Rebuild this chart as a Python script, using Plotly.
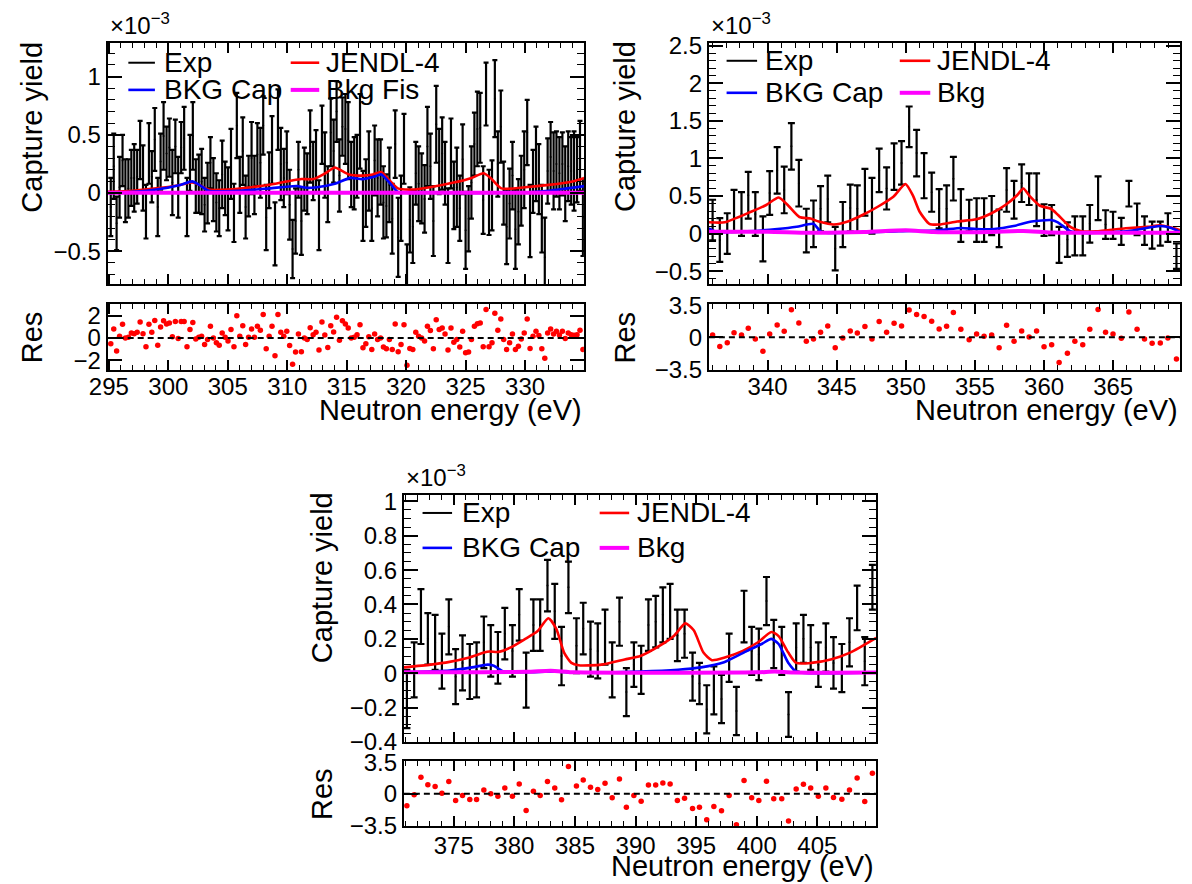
import plotly.graph_objects as go

# ---------------- data (capture yield in units of 1e-3) ----------------
# Panel 1: 295-335 eV
energy_1 = [295.16, 295.41, 295.65, 295.90, 296.15, 296.39, 296.64, 296.89, 297.13, 297.38,
            297.63, 297.87, 298.12, 298.37, 298.61, 298.86, 299.11, 299.35, 299.60, 299.85,
            300.09, 300.34, 300.59, 300.83, 301.08, 301.33, 301.57, 301.82, 302.06, 302.31,
            302.56, 302.80, 303.05, 303.30, 303.54, 303.79, 304.04, 304.28, 304.53, 304.78,
            305.02, 305.27, 305.52, 305.76, 306.01, 306.26, 306.50, 306.75, 307.00, 307.24,
            307.49, 307.74, 307.98, 308.23, 308.48, 308.72, 308.97, 309.22, 309.46, 309.71,
            309.96, 310.20, 310.45, 310.70, 310.94, 311.19, 311.44, 311.68, 311.93, 312.18,
            312.42, 312.67, 312.92, 313.16, 313.41, 313.66, 313.90, 314.15, 314.39, 314.64,
            314.89, 315.13, 315.38, 315.63, 315.87, 316.12, 316.37, 316.61, 316.86, 317.11,
            317.35, 317.60, 317.85, 318.09, 318.34, 318.59, 318.83, 319.08, 319.33, 319.57,
            319.82, 320.07, 320.31, 320.56, 320.81, 321.05, 321.30, 321.55, 321.79, 322.04,
            322.29, 322.53, 322.78, 323.03, 323.27, 323.52, 323.77, 324.01, 324.26, 324.51,
            324.75, 325.00, 325.25, 325.49, 325.74, 325.99, 326.23, 326.48, 326.72, 326.97,
            327.22, 327.46, 327.71, 327.96, 328.20, 328.45, 328.70, 328.94, 329.19, 329.44,
            329.68, 329.93, 330.18, 330.42, 330.67, 330.92, 331.16, 331.41, 331.66, 331.90,
            332.15, 332.40, 332.64, 332.89, 333.14, 333.38, 333.63, 333.88, 334.12, 334.37,
            334.62, 334.87]
exp_1 = [-0.12, 0.23, -0.26, 0.05, 0.28, 0.02, 0.04, 0.13, 0.13, 0.14,
         0.37, 0.13, -0.16, 0.34, 0.14, 0.46, -0.12, 0.27, 0.49, 0.34,
         0.39, 0.09, 0.40, 0.05, 0.39, 0.47, -0.12, 0.26, 0.49, 0.06,
         0.08, 0.10, -0.10, 0.00, 0.26, 0.03, -0.08, -0.13, 0.16, 0.04,
         -0.05, 0.25, -0.17, 0.58, 0.07, 0.36, -0.12, 0.06, 0.30, 0.07,
         0.33, 0.26, 0.58, -0.21, 0.11, 0.37, -0.35, 0.63, 0.25, 0.13,
         0.26, -0.10, -0.48, -0.24, 0.20, -0.24, 0.12, 0.08, 0.40, 0.19,
         0.27, -0.19, 0.50, 0.24, -0.01, 0.52, 0.36, 0.70, 0.15, 0.57,
         0.55, 0.45, 0.16, 0.17, 0.23, 0.53, -0.11, 0.00, 0.19, -0.13,
         0.28, 0.13, 0.18, -0.08, -0.11, 0.07, -0.22, 0.42, -0.38, -0.13,
         0.38, -0.77, -0.23, -0.29, 0.17, 0.08, 0.04, -0.05, 0.40, 0.23,
         -0.24, 0.59, 0.27, 0.34, 0.17, -0.28, 0.34, -0.02, 0.05, -0.13,
         0.29, -0.32, -0.22, 0.09, 0.42, 0.55, 0.56, -0.06, 0.85, -0.08,
         -0.02, 0.81, 0.25, 0.57, 0.00, -0.29, -0.09, 0.15, -0.31, -0.16,
         0.02, 0.20, 0.52, -0.24, 0.10, 0.25, 0.12, -0.22, -0.55, 0.19,
         0.31, 0.19, 0.25, 0.17, 0.25, 0.08, 0.23, 0.19, 0.19, 0.20,
         0.32, -0.21]
err_1 = [0.25, 0.28, 0.23, 0.26, 0.22, 0.27, 0.25, 0.24, 0.29, 0.23,
         0.25, 0.28, 0.23, 0.26, 0.22, 0.27, 0.25, 0.24, 0.29, 0.23,
         0.25, 0.28, 0.23, 0.26, 0.22, 0.27, 0.25, 0.24, 0.29, 0.23,
         0.25, 0.28, 0.23, 0.26, 0.22, 0.27, 0.25, 0.24, 0.29, 0.23,
         0.27, 0.30, 0.25, 0.28, 0.24, 0.29, 0.27, 0.26, 0.31, 0.25,
         0.27, 0.30, 0.25, 0.28, 0.24, 0.29, 0.27, 0.26, 0.31, 0.25,
         0.27, 0.30, 0.25, 0.28, 0.24, 0.29, 0.27, 0.26, 0.31, 0.25,
         0.27, 0.30, 0.25, 0.28, 0.24, 0.29, 0.27, 0.26, 0.31, 0.25,
         0.30, 0.33, 0.28, 0.31, 0.27, 0.32, 0.30, 0.29, 0.34, 0.28,
         0.30, 0.33, 0.28, 0.31, 0.27, 0.32, 0.30, 0.29, 0.34, 0.28,
         0.30, 0.33, 0.28, 0.31, 0.27, 0.32, 0.30, 0.29, 0.34, 0.28,
         0.30, 0.33, 0.28, 0.31, 0.27, 0.32, 0.30, 0.29, 0.34, 0.28,
         0.30, 0.33, 0.28, 0.31, 0.27, 0.32, 0.30, 0.29, 0.27, 0.28,
         0.30, 0.33, 0.28, 0.31, 0.27, 0.32, 0.30, 0.29, 0.34, 0.28,
         0.30, 0.33, 0.28, 0.31, 0.27, 0.32, 0.30, 0.29, 0.34, 0.28,
         0.30, 0.33, 0.28, 0.31, 0.27, 0.32, 0.30, 0.29, 0.34, 0.28,
         0.30, 0.33]
res_1 = [-0.53, 0.79, -1.18, 0.15, 1.21, 0.00, 0.06, 0.44, 0.38, 0.50,
         1.41, 0.38, -0.79, 1.21, 0.50, 1.56, -0.65, 0.97, 1.53, 1.24,
         1.32, 0.09, 1.47, -0.06, 1.47, 1.47, -0.79, 0.74, 1.38, -0.09,
         0.06, 0.15, -0.59, -0.15, 1.03, 0.00, -0.44, -0.65, 0.44, 0.06,
         -0.29, 0.74, -0.79, 1.97, 0.15, 1.09, -0.59, 0.06, 0.79, 0.06,
         1.03, 0.68, 2.09, -0.97, 0.15, 1.03, -1.59, 2.09, 0.50, 0.15,
         0.59, -0.68, -2.35, -1.26, 0.35, -1.24, 0.00, -0.15, 0.91, 0.29,
         0.50, -1.09, 1.41, 0.26, -0.85, 1.09, 0.53, 1.85, -0.21, 1.53,
         1.24, 0.88, 0.00, 0.06, 0.29, 1.18, -0.88, -0.53, 0.09, -1.03,
         0.35, -0.15, 0.00, -0.82, -0.97, -0.15, -1.03, 1.24, -1.24, -0.59,
         1.18, -2.44, -0.94, -1.03, 0.50, 0.15, 0.00, -0.29, 1.03, 0.65,
         -0.97, 1.62, 0.74, 0.88, 0.35, -1.09, 0.88, -0.38, -0.15, -0.82,
         0.59, -1.32, -1.26, -0.15, 1.03, 1.26, 1.32, -0.79, 2.53, -0.79,
         -0.44, 2.21, 0.68, 1.68, -0.15, -1.03, -0.44, 0.35, -1.03, -0.74,
         -0.09, 0.44, 1.68, -0.94, 0.15, 0.59, 0.21, -0.97, -1.82, 0.44,
         0.79, 0.35, 0.59, 0.26, 0.59, -0.06, 0.44, 0.29, 0.24, 0.29,
         0.68, -1.03]
jendl_1_E = [294.9, 297.0, 299.0, 301.0, 302.0, 302.6, 303.4, 305.0, 307.0, 309.0,
             310.5, 311.2, 312.2, 313.2, 314.0, 314.6, 315.2, 316.4, 317.2, 317.9,
             318.5, 319.3, 320.5, 322.0, 324.0, 325.5, 326.5, 327.1, 328.0, 330.0,
             332.0, 334.0, 335.0]
jendl_1 = [0.01, 0.02, 0.04, 0.07, 0.09, 0.07, 0.03, 0.03, 0.05, 0.08,
           0.11, 0.12, 0.12, 0.17, 0.22, 0.19, 0.16, 0.15, 0.16, 0.18,
           0.12, 0.04, 0.03, 0.05, 0.09, 0.13, 0.17, 0.13, 0.04, 0.05,
           0.07, 0.10, 0.13]
bkgcap_1_E = [294.9, 297.0, 299.0, 301.0, 302.0, 302.6, 303.4, 306.0, 308.5, 310.8,
              311.6, 312.5, 314.0, 315.3, 316.3, 317.3, 317.9, 318.6, 319.3, 322.0,
              330.0, 332.0, 335.0]
bkgcap_1 = [0.0, 0.01, 0.03, 0.07, 0.10, 0.07, 0.02, 0.02, 0.04, 0.06,
            0.045, 0.05, 0.08, 0.13, 0.12, 0.14, 0.16, 0.09, 0.01, 0.003,
            0.005, 0.02, 0.06]
bkg_1_E = [294.9, 305.0, 315.0, 325.0, 335.0]
bkg_1 = [0.002, 0.002, 0.003, 0.002, 0.002]

# Panel 2: 336-370 eV
energy_2 = [336.02, 336.54, 337.08, 337.57, 338.11, 338.60, 339.11, 339.66, 340.15, 340.69,
            341.20, 341.72, 342.26, 342.80, 343.32, 343.83, 344.35, 344.89, 345.44, 345.98,
            346.49, 347.04, 347.55, 348.07, 348.61, 349.15, 349.69, 350.24, 350.78, 351.32,
            351.87, 352.41, 352.95, 353.44, 353.98, 354.58, 355.12, 355.66, 356.21, 356.75,
            357.29, 357.83, 358.38, 358.92, 359.46, 360.00, 360.55, 361.09, 361.69, 362.23,
            362.80, 363.31, 363.91, 364.45, 364.99, 365.59, 366.14, 366.73, 367.27, 367.82,
            368.41, 368.96, 369.58]
exp_2 = [0.18, -0.085, 0.00, 0.30, 0.26, 0.51, 0.26, -0.07, 0.54, 0.84,
         0.58, 1.16, 0.67, 0.04, 0.13, 0.33, 0.46, -0.20, 0.12, 0.34,
         0.33, 0.55, 0.37, 0.84, 0.60, 0.89, 0.94, 1.42, 1.07, 0.77,
         0.55, 0.33, 0.33, 0.73, 0.24, 0.24, 0.18, 0.18, 0.24, 0.07,
         0.58, 0.45, 0.67, 0.59, 0.45, 0.18, 0.18, -0.15, -0.08, -0.03,
         -0.03, 0.13, 0.47, 0.12, 0.11, 0.03, 0.53, 0.19, 0.04, -0.02,
         0.00, 0.08, -0.30]
err_2 = [0.27, 0.29, 0.27, 0.28, 0.29, 0.31, 0.29, 0.30, 0.29, 0.31,
         0.31, 0.31, 0.31, 0.29, 0.31, 0.30, 0.31, 0.29, 0.30, 0.31,
         0.31, 0.31, 0.37, 0.29, 0.28, 0.31, 0.29, 0.27, 0.31, 0.30,
         0.26, 0.26, 0.31, 0.29, 0.35, 0.21, 0.29, 0.29, 0.26, 0.25,
         0.29, 0.25, 0.25, 0.21, 0.35, 0.21, 0.20, 0.24, 0.23, 0.26,
         0.26, 0.25, 0.29, 0.19, 0.18, 0.18, 0.17, 0.21, 0.19, 0.18,
         0.16, 0.19, 0.17]
res_2 = [0.26, -0.99, -0.58, 0.51, 0.26, 0.99, -0.18, -1.53, 0.36, 1.35,
         0.66, 3.00, 1.57, -0.44, -0.18, 0.55, 1.24, -1.13, -0.07, 0.69,
         0.47, 1.17, -0.18, 1.72, 0.55, 1.53, 1.24, 2.99, 2.48, 2.26,
         1.75, 0.91, 1.20, 2.70, 0.88, -0.26, 0.36, 0.11, 0.26, -1.13,
         1.31, -0.44, 0.69, 0.04, 0.69, -1.02, -0.80, -2.74, -1.75, -0.44,
         -0.80, 0.88, 3.03, 0.55, 0.36, -0.11, 2.77, 0.88, -0.18, -0.66,
         -0.62, -0.07, -2.37]
jendl_2_E = [335.75, 336.9, 338.8, 339.9, 340.8, 341.5, 342.3, 343.1, 343.7, 344.8,
             345.8, 346.9, 348.0, 349.1, 349.97, 350.5, 351.0, 351.7, 352.4, 353.7,
             355.1, 356.2, 357.2, 358.05, 358.5, 359.0, 359.7, 360.5, 361.0, 361.9,
             362.7, 363.75, 365.9, 367.5, 368.4, 369.0, 369.85]
jendl_2 = [0.15, 0.15, 0.29, 0.38, 0.48, 0.37, 0.22, 0.20, 0.16, 0.12,
           0.16, 0.25, 0.36, 0.49, 0.66, 0.51, 0.29, 0.13, 0.12, 0.16,
           0.19, 0.27, 0.38, 0.51, 0.60, 0.49, 0.37, 0.33, 0.25, 0.09,
           0.03, 0.03, 0.07, 0.09, 0.11, 0.09, 0.045]
bkgcap_2_E = [335.75, 336.35, 338.5, 340.7, 342.1, 343.3, 343.9, 345.5, 349.5, 352.4,
              354.0, 355.1, 356.4, 357.8, 359.1, 360.5, 361.0, 361.9, 362.7, 366.0,
              368.4, 369.2, 369.85]
bkgcap_2 = [0.07, 0.02, 0.03, 0.06, 0.09, 0.13, 0.02, 0.01, 0.03, 0.045,
            0.075, 0.06, 0.06, 0.10, 0.16, 0.18, 0.15, 0.03, 0.01, 0.03,
            0.10, 0.075, 0.02]
bkg_2_E = [335.75, 340.0, 343.0, 347.0, 350.0, 352.0, 356.0, 358.5, 360.5, 365.0, 369.85]
bkg_2 = [0.025, 0.025, 0.01, 0.02, 0.045, 0.02, 0.02, 0.035, 0.015, 0.01, 0.01]

# Panel 3: 371-410 eV
energy_3 = [371.13, 371.73, 372.29, 372.86, 373.46, 374.02, 374.59, 375.15, 375.72, 376.32,
            376.88, 377.48, 378.05, 378.64, 379.21, 379.84, 380.40, 380.97, 381.57, 382.13,
            382.73, 383.33, 383.89, 384.46, 385.12, 385.68, 386.28, 386.88, 387.48, 388.07,
            388.67, 389.24, 389.86, 390.46, 391.06, 391.66, 392.25, 392.85, 393.45, 394.04,
            394.70, 395.27, 395.87, 396.46, 397.09, 397.72, 398.32, 398.95, 399.58, 400.17,
            400.80, 401.40, 402.06, 402.62, 403.25, 403.85, 404.45, 405.08, 405.70, 406.33,
            407.02, 407.65, 408.28, 408.91, 409.54]
exp_3 = [-0.15, 0.02, 0.33, 0.20, 0.18, 0.07, 0.27, -0.02, 0.06, 0.01,
         0.02, 0.18, 0.13, 0.09, 0.23, 0.13, 0.34, -0.04, 0.28, 0.28,
         0.51, 0.36, 0.10, 0.50, 0.16, 0.26, 0.14, 0.13, 0.21, 0.02,
         0.30, -0.11, 0.05, 0.02, 0.28, 0.30, 0.34, 0.36, 0.22, 0.23,
         -0.02, -0.06, -0.21, -0.10, -0.15, 0.09, -0.22, 0.33, 0.13, 0.11,
         0.42, 0.17, 0.13, -0.24, 0.15, 0.20, 0.15, 0.05, 0.15, 0.06,
         0.03, 0.18, 0.38, 0.07, 0.50]
err_3 = [0.17, 0.16, 0.16, 0.15, 0.16, 0.16, 0.16, 0.16, 0.16, 0.16,
         0.16, 0.15, 0.15, 0.15, 0.15, 0.15, 0.15, 0.16, 0.15, 0.15,
         0.15, 0.16, 0.17, 0.15, 0.16, 0.15, 0.16, 0.16, 0.16, 0.16,
         0.14, 0.14, 0.13, 0.14, 0.15, 0.15, 0.16, 0.16, 0.15, 0.14,
         0.14, 0.12, 0.14, 0.14, 0.14, 0.14, 0.14, 0.15, 0.14, 0.15,
         0.14, 0.14, 0.14, 0.13, 0.14, 0.14, 0.13, 0.13, 0.14, 0.15,
         0.14, 0.14, 0.13, 0.14, 0.13]
res_3 = [-1.32, -0.11, 1.83, 1.00, 0.81, 0.07, 1.36, -0.73, -0.18, -0.62,
         -0.62, 0.44, 0.00, -0.26, 0.66, -0.26, 1.10, -1.83, 0.29, -0.18,
         1.36, 0.66, -0.66, 3.04, 0.88, 1.54, 0.73, 0.48, 1.17, -0.44,
         1.65, -1.47, -0.18, -0.81, 0.99, 0.99, 1.21, 1.10, -0.73, -0.48,
         -1.61, -1.47, -2.86, -1.39, -1.87, -0.18, -3.41, 1.47, -0.44, -0.73,
         1.39, -0.55, -0.55, -3.00, 0.55, 1.06, 0.66, -0.26, 0.66, -0.40,
         -0.59, 0.44, 1.76, -0.84, 2.27]
jendl_3_E = [370.88, 373.1, 374.65, 376.2, 377.5, 377.95, 378.7, 379.7, 380.9, 381.9,
             382.8, 383.45, 384.1, 384.7, 385.3, 387.2, 389.1, 390.4, 392.0, 393.2,
             394.1, 394.8, 395.6, 396.3, 397.3, 398.85, 400.1, 401.2, 401.8, 402.6,
             403.25, 404.5, 406.1, 407.7, 409.85]
jendl_3 = [0.034, 0.05, 0.066, 0.09, 0.12, 0.126, 0.124, 0.15, 0.20, 0.244,
           0.32, 0.26, 0.12, 0.06, 0.046, 0.05, 0.08, 0.10, 0.16, 0.22,
           0.29, 0.25, 0.12, 0.076, 0.09, 0.13, 0.18, 0.24, 0.216, 0.12,
           0.06, 0.06, 0.08, 0.12, 0.206]
bkgcap_3_E = [370.88, 374.65, 376.5, 377.8, 378.3, 379.1, 380.9, 383.4, 384.7, 390.4,
              393.5, 395.4, 397.3, 399.2, 400.4, 401.2, 401.8, 402.6, 403.25, 409.85]
bkgcap_3 = [0.006, 0.016, 0.034, 0.05, 0.044, 0.01, 0.006, 0.01, 0.004, 0.01,
            0.02, 0.034, 0.064, 0.13, 0.17, 0.20, 0.17, 0.06, 0.01, 0.006]
bkg_3_E = [370.88, 381.0, 383.0, 385.0, 400.0, 401.5, 403.0, 409.85]
bkg_3 = [0.005, 0.008, 0.015, 0.005, 0.005, 0.01, 0.004, 0.004]

legend_labels_1 = ["Exp", "JENDL-4", "BKG Cap", "Bkg Fis"]
legend_labels_23 = ["Exp", "JENDL-4", "BKG Cap", "Bkg"]
res_ticks_1 = [-2, 0, 2]
res_ticks_23 = [-3.5, 0, 3.5]

# ---------------- layout helpers ----------------
# The page body has an 8px default margin, so the figure is drawn 8px in from the
# window corner; positions below are given in window pixels.
OFF = 8
W, H = 1192 - OFF, 884 - OFF
FONT = "Liberation Sans, Arial, Helvetica, sans-serif"


def fx(p):
    return (p - OFF) / W


def fy(p):
    return 1 - (p - OFF) / H


panels = [
    dict(E=energy_1, exp=exp_1, err=err_1, res=res_1,
         red=(jendl_1_E, jendl_1), blue=(bkgcap_1_E, bkgcap_1), mag=(bkg_1_E, bkg_1),
         xr=[294.9, 334.95], yr=[-0.78, 1.285], ydt=0.5, yminor=0.1,
         rr=[-2.9, 3.0], rt=res_ticks_1,
         fx0=90, fx1=574, my=(31, 279), ry=(300, 368), cap=2.5,
         title_x=13, xt_y=409, standoff=-6,
         leg_rows=(51, 79), leg_lines=((111, 138), (276, 305)), leg_text=(145, 310),
         labels=legend_labels_1),
    dict(E=energy_2, exp=exp_2, err=err_2, res=res_2,
         red=(jendl_2_E, jendl_2), blue=(bkgcap_2_E, bkgcap_2), mag=(bkg_2_E, bkg_2),
         xr=[335.75, 369.85], yr=[-0.67, 2.53], ydt=0.5, yminor=0.1,
         rr=[-3.6, 3.6], rt=res_ticks_23,
         fx0=701, fx1=1180, my=(31, 279), ry=(300, 368), cap=3.5,
         title_x=616, xt_y=409, standoff=-6,
         leg_rows=(49, 82), leg_lines=((719, 750), (895, 926)), leg_text=(756, 931),
         labels=legend_labels_23),
    dict(E=energy_3, exp=exp_3, err=err_3, res=res_3,
         red=(jendl_3_E, jendl_3), blue=(bkgcap_3_E, bkgcap_3), mag=(bkg_3_E, bkg_3),
         xr=[370.88, 409.85], yr=[-0.40, 1.04], ydt=0.2, yminor=0.05,
         rr=[-3.6, 3.6], rt=res_ticks_23,
         fx0=391, fx1=871, my=(496, 751), ry=(771, 838), cap=3.5,
         title_x=308, xt_y=879, standoff=-3,
         leg_rows=(515, 551), leg_lines=((410, 440), (590, 620)), leg_text=(448, 626),
         labels=legend_labels_23),
]

fig = go.Figure()
layout_axes = {}
shapes = []
annotations = []

tickfont = dict(family=FONT, size=24, color="black")
title_font = dict(family=FONT, size=29, color="black")

for i, p in enumerate(panels):
    m = 2 * i + 1
    r = 2 * i + 2
    xm_ref = "x" if m == 1 else f"x{m}"
    ym_ref = "y" if m == 1 else f"y{m}"
    xr_ref = f"x{r}"
    yr_ref = f"y{r}"
    xdom = [fx(p["fx0"]), fx(p["fx1"])]

    common_x = dict(domain=xdom, range=p["xr"], showline=True, mirror="ticks",
                    linecolor="black", linewidth=2, ticks="inside", tickcolor="black",
                    tickwidth=1.5, dtick=5, tick0=0, showgrid=False, zeroline=False,
                    tickfont=tickfont)
    layout_axes["xaxis" if m == 1 else f"xaxis{m}"] = dict(
        common_x, anchor=ym_ref, ticklen=10, showticklabels=False,
        minor=dict(ticks="inside", ticklen=5, dtick=1, tickcolor="black", tickwidth=1.2, showgrid=False))
    layout_axes[f"xaxis{r}"] = dict(
        common_x, anchor=yr_ref, ticklen=10, showticklabels=True, ticklabelstandoff=p["standoff"],
        minor=dict(ticks="inside", ticklen=5, dtick=1, tickcolor="black", tickwidth=1.2, showgrid=False))

    layout_axes["yaxis" if m == 1 else f"yaxis{m}"] = dict(
        domain=[fy(p["my"][1]), fy(p["my"][0])], range=p["yr"], anchor=xm_ref,
        showline=True, mirror="ticks", linecolor="black", linewidth=2,
        ticks="inside", ticklen=14, tickcolor="black", tickwidth=1.5,
        dtick=p["ydt"], tick0=0, showgrid=False, zeroline=False, tickfont=tickfont,
        minor=dict(ticks="inside", ticklen=7, dtick=p["yminor"], tickcolor="black",
                   tickwidth=1.2, showgrid=False))
    layout_axes[f"yaxis{r}"] = dict(
        domain=[fy(p["ry"][1]), fy(p["ry"][0])], range=p["rr"], anchor=xr_ref,
        showline=True, mirror="ticks", linecolor="black", linewidth=2,
        ticks="inside", ticklen=14, tickcolor="black", tickwidth=1.5,
        tickvals=p["rt"], ticktext=[("\u2212" + str(abs(v)) if v < 0 else str(v)) for v in p["rt"]],
        showgrid=False, zeroline=False, tickfont=tickfont)

    # experimental data with error bars
    fig.add_trace(go.Scatter(
        x=p["E"], y=p["exp"], mode="markers", xaxis=xm_ref, yaxis=ym_ref,
        marker=dict(color="black", size=2),
        error_y=dict(type="data", array=p["err"], visible=True, color="black",
                     thickness=2.2, width=p["cap"]),
        showlegend=False, hoverinfo="skip"))
    # curves
    fig.add_trace(go.Scatter(x=p["red"][0], y=p["red"][1], mode="lines", xaxis=xm_ref, yaxis=ym_ref,
                             line=dict(color="#ff0000", width=2.6, shape="spline", smoothing=0.6),
                             showlegend=False))
    fig.add_trace(go.Scatter(x=p["blue"][0], y=p["blue"][1], mode="lines", xaxis=xm_ref, yaxis=ym_ref,
                             line=dict(color="#0000ff", width=2.6, shape="spline", smoothing=0.6),
                             showlegend=False))
    fig.add_trace(go.Scatter(x=p["mag"][0], y=p["mag"][1], mode="lines", xaxis=xm_ref, yaxis=ym_ref,
                             line=dict(color="#ff00ff", width=4, shape="spline", smoothing=0.6),
                             showlegend=False))
    # residuals
    shapes.append(dict(type="line", xref=xr_ref, yref=yr_ref, x0=p["xr"][0], x1=p["xr"][1],
                       y0=0, y1=0, line=dict(color="black", width=2, dash="6px,4px")))
    fig.add_trace(go.Scatter(x=p["E"], y=p["res"], mode="markers", xaxis=xr_ref, yaxis=yr_ref,
                             marker=dict(color="#ff0000", size=5.5), showlegend=False))

    # axis titles
    annotations.append(dict(text="Capture yield", xref="paper", yref="paper",
                            x=fx(p["title_x"]), y=fy(p["my"][0] + 86), textangle=-90,
                            showarrow=False, font=title_font, xanchor="center", yanchor="middle"))
    annotations.append(dict(text="Res", xref="paper", yref="paper",
                            x=fx(p["title_x"]), y=fy((p["ry"][0] + p["ry"][1]) / 2), textangle=-90,
                            showarrow=False, font=title_font, xanchor="center", yanchor="middle"))
    annotations.append(dict(text="Neutron energy (eV)", xref="paper", yref="paper",
                            x=fx(p["fx1"]), y=fy(p["xt_y"]), showarrow=False, font=title_font,
                            xanchor="right", yanchor="middle"))
    annotations.append(dict(text="\u00d710<sup>\u22123</sup>", xref="paper", yref="paper",
                            x=fx(p["fx0"]), y=fy(p["my"][0] - 2), showarrow=False,
                            font=dict(family=FONT, size=24, color="black"),
                            xanchor="left", yanchor="bottom"))

    # legend (manual, ROOT style)
    colors = ["black", "#ff0000", "#0000ff", "#ff00ff"]
    widths = [2, 2.6, 2.6, 4]
    for k in range(4):
        row = k // 2
        col = k % 2
        yy = p["leg_rows"][row]
        x0, x1 = p["leg_lines"][col]
        shapes.append(dict(type="line", xref="paper", yref="paper", x0=fx(x0), x1=fx(x1),
                           y0=fy(yy), y1=fy(yy), line=dict(color=colors[k], width=widths[k])))
        annotations.append(dict(text=p["labels"][k], xref="paper", yref="paper",
                                x=fx(p["leg_text"][col]), y=fy(yy), showarrow=False,
                                font=dict(family=FONT, size=28, color="black"),
                                xanchor="left", yanchor="middle"))

fig.update_layout(
    width=W, height=H, margin=dict(l=0, r=0, t=0, b=0),
    paper_bgcolor="white", plot_bgcolor="white",
    shapes=shapes, annotations=annotations, showlegend=False,
    **layout_axes)

fig.write_html("out.html")
